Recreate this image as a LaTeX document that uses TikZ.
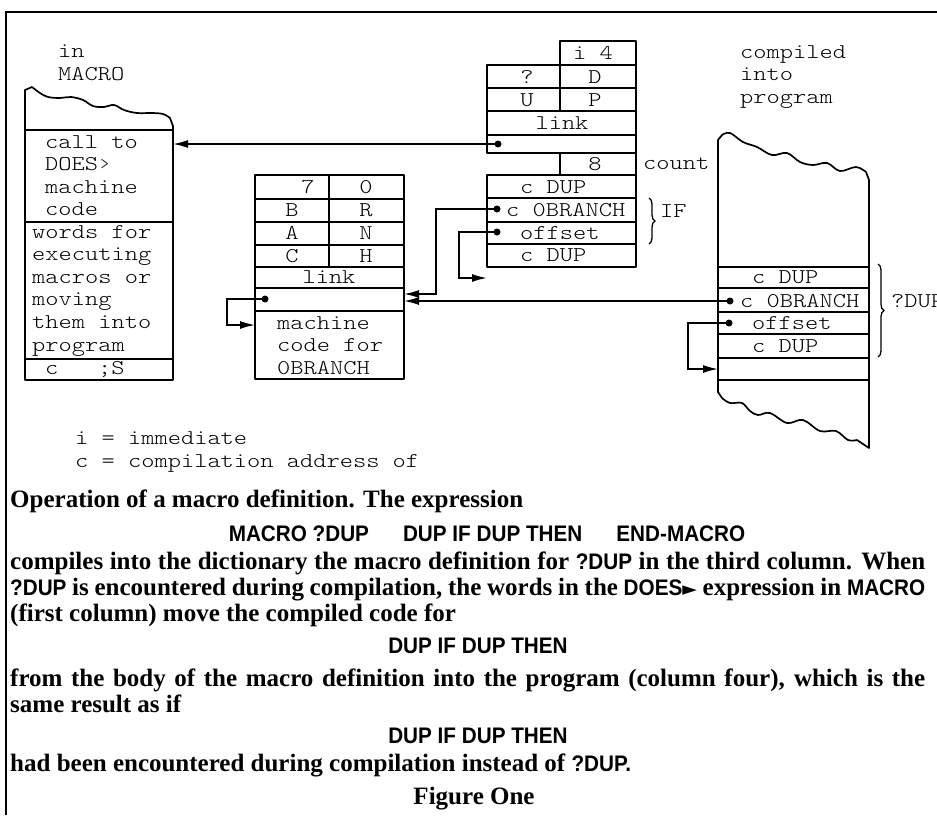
\documentclass[tikz,border=0pt]{standalone}
\usepackage{fontspec}
\setmainfont{Liberation Serif}
\newfontfamily\monofont[Extension=.otf,FakeStretch=1.2]{lmmonolt10-regular}
\newfontfamily\codefont[FakeStretch=0.92]{Liberation Sans}
\newfontfamily\symfont{DejaVu Sans}
\usetikzlibrary{arrows.meta,calc,decorations.pathreplacing}
\newcommand{\kw}[1]{{\codefont\bfseries\fontsize{22.5}{22}\selectfont #1}}
\newcommand{\doesmark}{{\symfont\fontsize{19}{19}\selectfont ►}}

\begin{document}
\begin{tikzpicture}[x=1pt,y=-1pt,>={Latex[length=15pt,width=8pt]},
  box/.style={line width=1.7pt,line join=round},
  ptr/.style={line width=1.6pt,->},
  mono/.style={font=\monofont\fontsize{21}{22.6}\selectfont,inner sep=0pt},
  prose/.style={font=\bfseries\fontsize{25}{26}\selectfont,inner sep=0pt,anchor=base west},
  brc/.style={line width=1.3pt,decorate,decoration={brace,amplitude=6pt}}]
\useasboundingbox (0,0) rectangle (937,815);
\draw[line width=2.5pt] (937,12) -- (6,12) -- (6,815);

% column one: MACRO
\node[mono,align=left,anchor=north west] (inmacro) at (58,45) {in\\MACRO};
\draw[box] (25,380) -- (25,90) -- plot[smooth,tension=.6] coordinates {(32,87) (40,93) (48,97) (60,98) (71,97) (83,100) (93,106) (104,107) (114,105) (124,110) (137,113) (152,113) (163,114) (170,118)} -- (173,126) -- (173,380) -- cycle;
\draw[box] (25,130) -- (173,130) (25,222) -- (173,222) (25,359) -- (173,359);
\node[mono,align=left,anchor=north west] (doescall) at (45,135) {call to\\DOES›\\machine\\code};
\node[mono,align=left,anchor=north west] (doeswords) at (32,225) {words for\\executing\\macros or\\moving\\them into\\program};
\node[mono,anchor=west] (semis) at (45,369) {c\ \ \ ;S};
\coordinate (tCall) at (173,144);

% column two: 0BRANCH
\draw[box] (255,175) rectangle (404,379);
\draw[box] (255,199) -- (404,199) (255,222) -- (404,222) (255,245) -- (404,245) (255,267) -- (404,267) (255,288) -- (404,288) (255,311) -- (404,311) (329,175) -- (329,267);
\node[mono] (b7) at (308,187) {7}; \node[mono] (b0) at (366,187) {0};
\node[mono] (bB) at (292,210) {B}; \node[mono] (bR) at (366,210) {R};
\node[mono] (bA) at (292,233) {A}; \node[mono] (bN) at (366,233) {N};
\node[mono] (bC) at (292,256) {C}; \node[mono] (bH) at (366,256) {H};
\node[mono] (blink) at (329,277) {link};
\node[mono,align=left,anchor=north west] (bcode) at (277,316) {machine\\code for\\0BRANCH};
\coordinate (dSelf) at (265,299); \coordinate (tSelf) at (255,325);
\coordinate (tBr) at (404,294); \coordinate (tPBr) at (404,301);

% column three: ?DUP definition
\draw[box] (560,41) rectangle (636,65);
\draw[box] (487,65) rectangle (636,153);
\draw[box] (487,88) -- (636,88) (487,111) -- (636,111) (487,135) -- (636,135) (560,65) -- (560,111);
\draw[box] (560,153) rectangle (636,175);
\draw[box] (487,175) rectangle (636,267);
\draw[box] (487,198) -- (636,198) (487,222) -- (636,222) (487,244) -- (636,244);
\node[mono] (qi) at (593,53) {i 4};
\node[mono] (qq) at (527,77) {?}; \node[mono] (qD) at (595,77) {D};
\node[mono] (qU) at (527,100) {U}; \node[mono] (qP) at (595,100) {P};
\node[mono] (qlink) at (562,123) {link};
\node[mono] (q8) at (595,164) {8};
\node[mono,anchor=west] (count) at (643,164) {count};
\node[mono,anchor=west] (qdup) at (520,187) {c DUP};
\node[mono,anchor=west] (qbr) at (506,210) {c 0BRANCH};
\node[mono,anchor=west] (qoff) at (520,233) {offset};
\node[mono,anchor=west] (qdup2) at (520,255) {c DUP};
\draw[brc] (649,198) -- (649,244);
\node[mono,anchor=west] (iflbl) at (660,211) {IF};
\coordinate (dLink) at (498,144); \coordinate (dBr) at (497,209);
\coordinate (dOff) at (497,232); \coordinate (tOff) at (487,278);

% column four: compiled into program
\node[mono,align=left,anchor=north west] (cprog) at (740,45) {compiled\\into\\program};
\draw[box] (718,392) -- (718,140) -- plot[smooth,tension=.6] coordinates {(722,135) (730,133) (743,142) (757,147) (772,155) (787,153) (800,162) (813,165) (827,163) (840,171) (856,167) (866,172)} -- (869,180) -- (869,448) -- plot[smooth,tension=.6] coordinates {(857,440) (848,440) (836,431) (820,431) (803,420) (787,423) (770,413) (758,415) (750,411) (742,403) (730,403) (722,398)} -- cycle;
\draw[box] (718,267) -- (869,267) (718,288) -- (869,288) (718,312) -- (869,312) (718,334) -- (869,334) (718,358) -- (869,358) (718,380) -- (869,380);
\node[mono,anchor=west] (pdup) at (752,277) {c DUP};
\node[mono,anchor=west] (pbr) at (740,301) {c 0BRANCH};
\node[mono,anchor=west] (poff) at (752,323) {offset};
\node[mono,anchor=west] (pdup2) at (752,346) {c DUP};
\draw[brc] (878,264) -- (878,357);
\node[mono,anchor=west] (qduplbl) at (891,301) {?DUP};
\coordinate (dPBr) at (730,301); \coordinate (dPOff) at (729,323); \coordinate (tPOff) at (718,369);

% pointers
\fill (dLink) circle (3.5pt); \draw[ptr] (dLink) -- (tCall);
\fill (dSelf) circle (3.5pt); \draw[ptr] (dSelf) -- ++(-38,0) |- (tSelf);
\fill (dBr) circle (3.5pt); \draw[ptr] (dBr) -- ++(-61,0) |- (tBr);
\fill (dOff) circle (3.5pt); \draw[ptr] (dOff) -- ++(-38,0) |- (tOff);
\fill (dPBr) circle (3.5pt); \draw[ptr] (dPBr) -- (tPBr);
\fill (dPOff) circle (3.5pt); \draw[ptr] (dPOff) -- ++(-41,0) |- (tPOff);

% legend and caption
\node[mono,anchor=base west] (leg1) at (75,444) {i = immediate};
\node[mono,anchor=base west] (leg2) at (75,467) {c = compilation address of};
\node[prose] (cap1) at (10,507) {Operation of a macro definition. The expression};
\node[prose,anchor=base] (expr1) at (487,541) {\kw{MACRO ?DUP\hspace{34pt}DUP IF DUP THEN\hspace{34pt}END-MACRO}};
\node[prose] (cap2) at (10,569) {\makebox[915pt][s]{compiles into the dictionary the macro definition for \kw{?DUP} in the third column. When}};
\node[prose] (cap3) at (10,595) {\makebox[915pt][s]{\kw{?DUP} is encountered during compilation, the words in the \kw{DOES\doesmark} expression in \kw{MACRO}}};
\node[prose] (cap4) at (10,621) {(first column) move the compiled code for};
\node[prose,anchor=base] (expr2) at (478,653) {\kw{DUP IF DUP THEN}};
\node[prose] (cap5) at (10,686) {\makebox[915pt][s]{from the body of the macro definition into the program (column four), which is the}};
\node[prose] (cap6) at (10,712) {same result as if};
\node[prose,anchor=base] (expr3) at (478,743) {\kw{DUP IF DUP THEN}};
\node[prose] (cap7) at (10,771) {had been encountered during compilation instead of \kw{?DUP.}};
\node[prose,anchor=base] (figlbl) at (474,804) {Figure One};
\end{tikzpicture}
\end{document}
